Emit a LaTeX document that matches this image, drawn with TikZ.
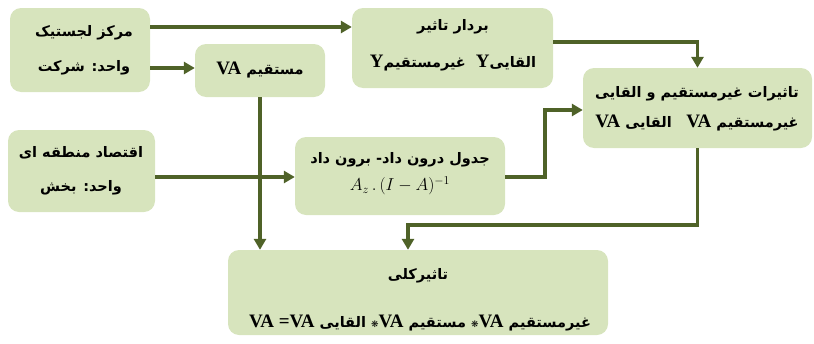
\documentclass[tikz,border=0pt]{standalone}
\usepackage{fontspec}
\usetikzlibrary{arrows.meta}
\TeXXeTstate=1
\newfontfamily\ar[Script=Arabic]{DejaVu Sans}
\newfontfamily\dv{DejaVu Sans}
\newfontfamily\lat{Liberation Serif}
\definecolor{boxfill}{HTML}{D7E4BD}
\definecolor{olive}{HTML}{4F6228}
\newcommand\VA{\beginL{\lat\bfseries\fontsize{19}{19}\selectfont VA}\endL}
\newcommand\VY{\beginL{\lat\bfseries\fontsize{19}{19}\selectfont Y}\endL}
\newcommand\myast{{\dv\fontsize{9}{9}\selectfont ❋}}
\tikzset{
  box/.style={fill=boxfill, rounded corners=11pt, inner sep=0pt},
  txt/.style={inner sep=0pt, font=\ar\bfseries\fontsize{14.5}{17}\selectfont},
  conn/.style={draw=olive, line width=3.3pt, -{Triangle[length=11pt,width=12pt]}},
}
\begin{document}
\begin{tikzpicture}[x=1pt,y=-1pt]
\useasboundingbox (0,0) rectangle (814,343);
% boxes
\node[box, minimum width=140pt, minimum height=84pt] (A) at (80,50) {};
\node[box, minimum width=130pt, minimum height=53pt] (B) at (260,70.5) {};
\node[box, minimum width=201pt, minimum height=80pt] (C) at (452.5,48) {};
\node[box, minimum width=229pt, minimum height=80pt] (D) at (697.5,108) {};
\node[box, minimum width=147pt, minimum height=82pt] (E) at (81.5,171) {};
\node[box, minimum width=210pt, minimum height=78pt] (F) at (400,176) {};
\node[box, minimum width=380pt, minimum height=85pt] (G) at (418,292.5) {};
% texts
\node[txt] (A1) at (84,33) {\beginR مرکز لجستیک\endR};
\node[txt] (A2) at (84,68) {\beginR واحد: شرکت\endR};
\node[txt] (B1) at (260,70) {\beginR مستقیم \VA\endR};
\node[txt] (C1) at (453,27) {\beginR بردار تاثیر\endR};
\node[txt] (C2) at (453,63) {\beginR القایی\VY\ \ غیرمستقیم\VY\endR};
\node[txt] (D1) at (697,94) {\beginR تاثیرات غیرمستقیم و القایی\endR};
\node[txt] (D2) at (697,123) {\beginR غیرمستقیم \VA\quad القایی \VA\endR};
\node[txt] (E1) at (81,153) {\beginR اقتصاد منطقه ای\endR};
\node[txt] (E2) at (81,188) {\beginR واحد: بخش\endR};
\node[txt] (F1) at (400,160) {\beginR جدول درون داد- برون داد\endR};
\node[inner sep=0pt, font=\fontsize{18}{18}\selectfont] (F2) at (400,186) {$A_z\,.\,(I-A)^{-1}$};
\node[txt] (G1) at (418,276) {\beginR تاثیرکلی\endR};
\node[txt] (G2) at (420,323) {\beginR غیرمستقیم \VA\myast\ مستقیم \VA\myast\ القایی \beginL{\lat\bfseries\fontsize{19}{19}\selectfont VA =VA}\endL\endR};
% connectors
\coordinate (fd) at (545,177);
\coordinate (dg) at (408,225);
\draw[conn] (A.east |- 0,27) -- (C.west |- 0,27);
\draw[conn] (A.east |- 0,68) -- (B.west |- 0,68);
\draw[conn] (C.east |- 0,42) -| (D.north);
\draw[conn] (B.south) -- (G.north -| B.south);
\draw[conn] (E.east |- 0,177) -- (F.west |- 0,177);
\draw[conn] (F.east |- fd) -- (fd) |- (D.west |- 0,110);
\draw[conn] (D.south) |- (dg) -- (G.north -| dg);
\end{tikzpicture}
\end{document}
